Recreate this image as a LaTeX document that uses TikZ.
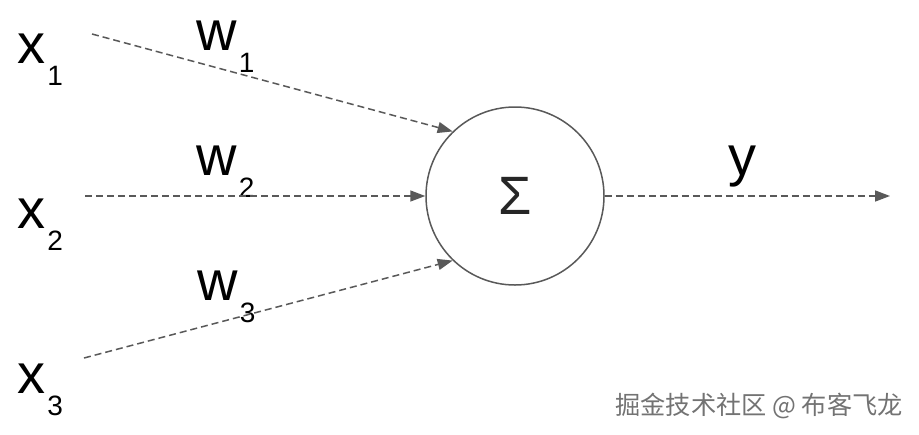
\documentclass[tikz,border=0pt]{standalone}
\usepackage{fontspec}
\setmainfont{Liberation Sans}
\newfontfamily\cjk{Noto Sans CJK SC}
\usetikzlibrary{arrows.meta}

\newcommand{\varlbl}[2]{{\fontsize{28}{30}\selectfont #1}\kern1pt\raisebox{-11pt}{\fontsize{14}{16}\selectfont #2}}

\tikzset{
  link/.style={draw=black!65, line width=0.75pt, dash pattern=on 3.5pt off 2pt,
    -{Triangle[length=7.5pt,width=5.5pt]}},
  lbl/.style={anchor=base west, inner sep=0pt}
}

\begin{document}
\begin{tikzpicture}[x=0.5pt,y=-0.5pt]
            \useasboundingbox[fill=white] (0,0) rectangle (919,434);

            % Inputs and weights
            \node[lbl] (lx1) at (17,63) {\varlbl{x}{1}};
            \node[lbl] (lx2) at (17,228) {\varlbl{x}{2}};
            \node[lbl] (lx3) at (17,393) {\varlbl{x}{3}};
            \node[lbl] (lw1) at (196,50) {\varlbl{w}{1}};
            \node[lbl] (lw2) at (196,175) {\varlbl{w}{2}};
            \node[lbl] (lw3) at (197,300) {\varlbl{w}{3}};

            % Summation unit
            \node[circle, draw=black!65, line width=0.75pt, minimum size=89pt, inner sep=0pt,
              font=\fontsize{27}{30}\selectfont, text=black!85] (sum) at (515,196) {Σ};

            % Start and end points of the links
            \coordinate (in1) at (92,34);
            \coordinate (in2) at (85,196);
            \coordinate (in3) at (84,358);
            \coordinate (out) at (890,196);

            \draw[link] (in1) -- (sum.134);
            \draw[link] (in2) -- (sum);
            \draw[link] (in3) -- (sum.-134);
            \draw[link] (sum) -- (out);

            % Output
            \node[lbl] (ly) at (728,175) {{\fontsize{28}{30}\selectfont y}};

            % Watermark
            \node[anchor=base east, inner sep=0pt, text=black!55,
              font=\cjk\fontsize{12.6}{14}\selectfont] (mark) at (903,414) {掘金技术社区 @ 布客飞龙};
        \end{tikzpicture}
\end{document}
